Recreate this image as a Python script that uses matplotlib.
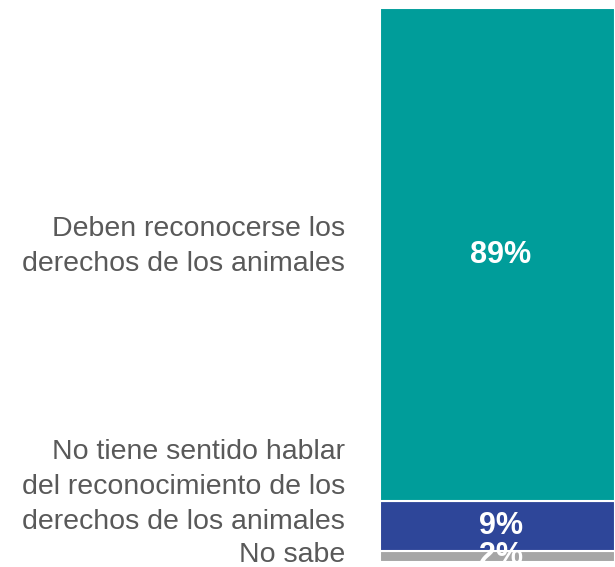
import matplotlib

matplotlib.use("Agg")
import matplotlib.pyplot as plt

# Survey answers, stacked from bottom to top
CATEGORIES = [
    "No sabe",
    "No tiene sentido hablar\ndel reconocimiento de los\nderechos de los animales",
    "Deben reconocerse los\nderechos de los animales",
]
SHARES = [2, 9, 89]
VALUE_LABELS = ["2%", "9%", "89%"]

COLORS = ["#A6A6A6", "#2E4699", "#009D9A"]
LABEL_COLOR = "#595959"
# vertical nudge of the category texts (data units), as placed in the original
LABEL_OFFSETS = [0.3, 7.0, 1.5]

plt.rcParams["font.family"] = ["Liberation Sans", "DejaVu Sans"]

fig = plt.figure(figsize=(6.15, 5.67), dpi=100)
ax = fig.add_axes([380 / 615, 5 / 567, 235 / 615, 554 / 567])

bottom = 0
for cat, share, txt, color, off in zip(CATEGORIES, SHARES, VALUE_LABELS, COLORS, LABEL_OFFSETS):
    ax.bar(0, share, width=1.0, bottom=bottom, color=color, edgecolor="white", linewidth=1.5)
    mid = bottom + share / 2
    ax.text(0.015, mid, txt, ha="center", va="center", color="white",
            fontsize=22, fontweight="bold", clip_on=True)
    ax.text(-0.149, mid + off, cat, transform=ax.get_yaxis_transform(),
            ha="right", va="center", multialignment="right",
            color=LABEL_COLOR, fontsize=20.5, linespacing=1.45, clip_on=False)
    bottom += share

ax.set_xlim(-0.5, 0.5)
ax.set_ylim(0, 100)
ax.axis("off")

fig.savefig("out.png", dpi=100)
